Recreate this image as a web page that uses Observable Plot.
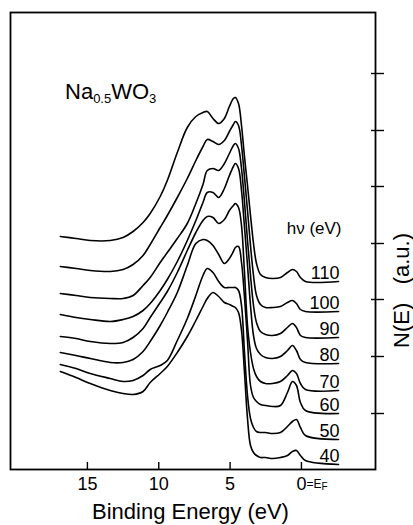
<!DOCTYPE html>
<html><head><meta charset="utf-8">
<script src="https://cdn.jsdelivr.net/npm/d3@7"></script>
<script src="https://cdn.jsdelivr.net/npm/@observablehq/plot@0.6"></script>
<style>body{margin:0;background:#fff} svg{display:block}</style>
</head><body><div id="chart"></div>
<script>
// Binding energy (eV), shared sampling grid
const energy = [16.9, 15.8, 14.8, 13.4, 12.5, 11.8, 11.1, 10.6, 9.9, 9.4, 8.7, 8.0, 7.4, 6.9, 6.6, 6.2, 5.8, 5.4, 5.05, 4.77, 4.63, 4.41, 4.2, 4.0, 3.78, 3.57, 3.36, 3.15, 2.87, 2.52, 2.03, 1.47, 0.98, 0.63, 0.35, 0.07, -0.28, -2.6];
// photon energies hν (eV)
const photonEnergies = [110, 100, 90, 80, 70, 60, 50, 40];
// N(E), arbitrary units (offset spectra)
const n110 = [233,231,229,229,232,238,247,256,273,289,317,342,353,357,358,351,346,351,363,371,372,366,344,314,284,254,226,206,195,192,191,192,197,200,198,192,188,188];
const n100 = [203,201,199,198,200,205,214,225,242,254,272,291,309,323,330,328,325,329,338,345,348,344,324,294,259,224,194,174,165,162,162,163,167,169,166,160,158,158];
const n90  = [176,174,172,171,171,174,184,192,207,217,231,246,266,285,299,301,299,306,316,324,326,321,301,269,229,194,164,147,138,135,134,136,142,146,142,134,132,132];
const n80  = [155,152,150,148,150,153,159,166,179,190,208,229,249,267,277,277,272,281,294,303,306,301,279,244,204,164,134,121,115,112,111,113,119,124,119,110,107,106];
const n70  = [133,131,128,126,127,132,141,152,167,178,197,219,237,249,253,252,246,250,259,264,266,262,244,199,144,117,101,93,88,86,86,88,94,99,96,86,80,79];
const n60  = [117,114,111,107,107,110,118,128,144,157,177,204,226,230,229,224,215,206,211,218,222,223,207,174,129,84,72,68,65,64,63,64,77,88,84,67,59,56];
const n50  = [105,101,96,91,88,89,94,100,104,109,129,151,174,194,201,197,188,182,182,182,182,179,164,119,74,51,42,38,37,37,36,37,43,48,50,42,34,30];
const n40  = [98,92,86,79,76,75,78,87,96,103,117,133,149,163,171,177,173,167,165,163,162,157,139,99,51,24,17,14,12,12,11,12,14,18,19,14,9,5];
const xTicks = [15, 10, 5, 0];
const yTicks = [56, 113, 170, 226, 283, 339, 396];

const series = [n110, n100, n90, n80, n70, n60, n50, n40];
const rows = photonEnergies.flatMap((hv, i) => energy.map((e, j) => ({hv, e, n: series[i][j]})));
const last = energy.length - 1;
const labels = photonEnergies.map((hv, i) => ({hv, e: energy[last], n: series[i][last]}));

const font = "'Liberation Sans', Arial, Helvetica, sans-serif";
const plot = Plot.plot({
  width: 413, height: 525,
  marginLeft: 10, marginRight: 38, marginTop: 12, marginBottom: 56,
  style: {fontFamily: font, background: "white", color: "black"},
  x: {domain: [20.39, -5.19], axis: null},
  y: {domain: [0, 457], axis: null},
  marks: [
    Plot.axisX({ticks: xTicks, anchor: "bottom", tickSize: 7, dy: -7, tickFormat: () => "", label: null, strokeWidth: 1.4}),
    Plot.axisY({ticks: yTicks, anchor: "right", tickSize: 13, dx: -5, tickFormat: () => "", label: null, strokeWidth: 1.4}),
    Plot.frame({stroke: "black", strokeWidth: 1.8}),
    Plot.line(rows, {x: "e", y: "n", z: "hv", curve: "catmull-rom", stroke: "black", strokeWidth: 1.6}),
    Plot.text(labels, {x: "e", y: "n", text: d => String(d.hv), textAnchor: "end", lineAnchor: "bottom", dx: 1, dy: -3, fontSize: 18, fill: "black"}),
    Plot.text(xTicks, {x: d => d, frameAnchor: "bottom", lineAnchor: "top", dy: 8, text: d => String(d), fontSize: 18, fill: "black"}),
    Plot.text([0], {x: d => d, frameAnchor: "bottom", lineAnchor: "top", textAnchor: "start", dx: 5, dy: 10, text: () => "=E", fontSize: 12, fill: "black"}),
    Plot.text([0], {x: d => d, frameAnchor: "bottom", lineAnchor: "top", textAnchor: "start", dx: 20, dy: 13, text: () => "F", fontSize: 10, fill: "black"}),
    Plot.text(["hν (eV)"], {frameAnchor: "top-right", textAnchor: "end", lineAnchor: "bottom", dx: -34, dy: 221, fontSize: 17, fill: "black"}),
    Plot.text(["N(E)\u00a0\u00a0\u00a0(a.u.)"], {frameAnchor: "right", rotate: -90, dx: 26, dy: -8, fontSize: 22, fill: "black"}),
    Plot.text(["Binding Energy (eV)"], {frameAnchor: "bottom", lineAnchor: "top", dx: -2.5, dy: 34, fontSize: 22, fill: "black", style: "letter-spacing:0.3px"})
  ]
});
document.getElementById("chart").appendChild(plot);

// compound name with subscripts
const t = d3.select(plot).append("text")
  .attr("x", 65).attr("y", 99).attr("text-anchor", "start")
  .attr("font-family", font).attr("font-size", 22).attr("fill", "black");
t.append("tspan").text("Na");
t.append("tspan").attr("font-size", 13).attr("dy", 4).text("0.5");
t.append("tspan").attr("dy", -4).text("WO");
t.append("tspan").attr("font-size", 13).attr("dy", 4).text("3");
</script>
</body></html>
